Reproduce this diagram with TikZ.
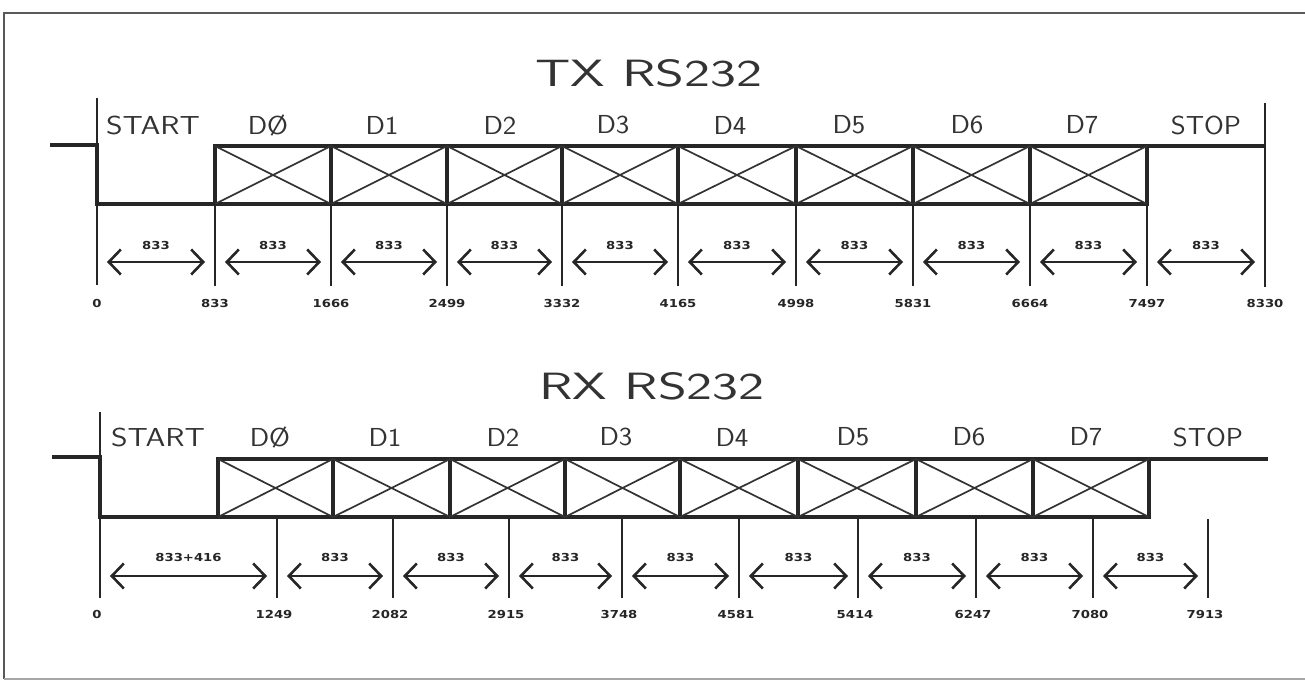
\documentclass[tikz,border=0pt]{standalone}
\usepackage{fontspec}
\usepackage{graphicx}
\usetikzlibrary{arrows.meta,calc}
\newfontfamily\numfont{DejaVu Sans}
\tikzset{
  wave/.style={line width=3.1pt, line cap=butt, line join=miter, black!85},
  diag/.style={line width=1.7pt, black!80},
  tickline/.style={line width=1.4pt, black!85},
  dimarrow/.style={line width=1.8pt, black!85,
    {Straight Barb[length=12pt,width=25pt,line width=2.6pt]}-{Straight Barb[length=12pt,width=25pt,line width=2.6pt]},
    shorten <=10pt, shorten >=10pt},
  seglabel/.style={inner sep=0pt, font=\fontsize{26}{28}\selectfont\sffamily, text=black!80},
  titlelabel/.style={inner sep=0pt, font=\fontsize{38}{40}\selectfont\sffamily, text=black!80},
  durlabel/.style={inner sep=0pt, text height=8pt, text depth=0pt, font=\fontsize{11}{12}\selectfont\numfont\bfseries, text=black!85},
  numlabel/.style={inner sep=0pt, text height=8pt, text depth=0pt, font=\fontsize{11}{12}\selectfont\numfont\bfseries, text=black!85},
}
\newcommand{\wide}[2]{\scalebox{#1}[1]{#2}}
\begin{document}
\begin{tikzpicture}[x=1pt,y=-1pt]
\useasboundingbox (0,0) rectangle (1305,682);
\fill[white] (0,0) rectangle (1305,682);
% frame
\draw[line width=2pt, black!65] (1305,13) -- (4,13) -- (4,679);
\draw[line width=1.2pt, black!35] (4,679) -- (1305,679);

% ================= TX =================
\node[titlelabel] (txtitle) at (649,73) {\wide{1.45}{TX RS232}};
\foreach \n/\x in {0/97,1/215,2/331,3/447,4/562,5/678,6/796,7/913,8/1030,9/1147,10/1265}{
  \coordinate (t\n) at (\x,204);
  \coordinate (ta\n) at (\x,262);
  \coordinate (tb\n) at (\x,286);
}
% waveform
\draw[wave] (50,145) -- (97,145) -- (97,204) -- (t1);
\draw[wave] (215,146) rectangle (1147,204);
\draw[wave] (1147,146) -- (1265,146);
\foreach \x in {331,447,562,678,796,913,1030}{
  \draw[wave] (\x,146) -- (\x,204);
}
\foreach \a/\b in {215/331,331/447,447/562,562/678,678/796,796/913,913/1030,1030/1147}{
  \draw[diag] (\a,146) -- (\b,204) (\a,204) -- (\b,146);
}
% ticks
\draw[tickline] (97,98) -- (97,285);
\draw[tickline] (1265,103) -- (1265,287);
\foreach \n in {1,...,9}{
  \draw[tickline] (t\n) -- (tb\n);
}
% arrows and durations
\foreach \n [evaluate=\n as \m using int(\n+1)] in {0,...,9}{
  \draw[dimarrow] (ta\n) -- (ta\m);
  \node[durlabel] (tdur\n) at ($(ta\n)!0.5!(ta\m)+(0,-17)$) {\wide{1.2}{833}};
}
% numbers
\foreach \n/\v in {0/0,1/833,2/1666,3/2499,4/3332,5/4165,6/4998,7/5831,8/6664,9/7497,10/8330}{
  \node[numlabel] (tnum\n) at ($(ta\n)+(0,41)$) {\wide{1.2}{\v}};
}
% segment labels
\node[seglabel] (txs) at (153,125) {\wide{1.22}{START}};
\foreach \nm/\x/\t in {d0/268/DØ,d1/382/D1,d2/500/D2,d3/613/D3,d4/730/D4,d5/849/D5,d6/967/D6,d7/1082/D7,p/1206/STOP}{
  \node[seglabel] (tx\nm) at (\x,125) {\wide{1.1}{\t}};
}

% ================= RX =================
\node[titlelabel] (rxtitle) at (652,386) {\wide{1.45}{RX RS232}};
\foreach \n/\x in {0/100,1/277,2/393,3/509,4/622,5/739,6/858,7/976,8/1093,9/1208}{
  \coordinate (r\n) at (\x,519);
  \coordinate (ra\n) at (\x,576);
  \coordinate (rb\n) at (\x,598);
}
\draw[wave] (52,457) -- (100,457) -- (100,517) -- (218,517);
\draw[wave] (218,459) rectangle (1149,517);
\draw[wave] (1149,459) -- (1268,459);
\foreach \x in {333,450,565,680,798,916,1033}{
  \draw[wave] (\x,459) -- (\x,517);
}
\foreach \a/\b in {218/333,333/450,450/565,565/680,680/798,798/916,916/1033,1033/1149}{
  \draw[diag] (\a,459) -- (\b,517) (\a,517) -- (\b,459);
}
\draw[tickline] (100,412) -- (100,598);
\foreach \n in {1,...,9}{
  \draw[tickline] (r\n) -- (rb\n);
}
\foreach \n/\lab [evaluate=\n as \m using int(\n+1)] in {0/833+416,1/833,2/833,3/833,4/833,5/833,6/833,7/833,8/833}{
  \draw[dimarrow] (ra\n) -- (ra\m);
  \node[durlabel] (rdur\n) at ($(ra\n)!0.5!(ra\m)+(0,-19)$) {\wide{1.2}{\lab}};
}
\foreach \n/\v in {0/0,1/1249,2/2082,3/2915,4/3748,5/4581,6/5414,7/6247,8/7080,9/7913}{
  \node[numlabel] (rnum\n) at ($(ra\n)+(-3,38)$) {\wide{1.2}{\v}};
}
\node[seglabel] (rxs) at (158,437) {\wide{1.22}{START}};
\foreach \nm/\x/\t in {d0/270/DØ,d1/385/D1,d2/503/D2,d3/616/D3,d4/732/D4,d5/853/D5,d6/969/D6,d7/1086/D7,p/1208/STOP}{
  \node[seglabel] (rx\nm) at (\x,437) {\wide{1.1}{\t}};
}
\end{tikzpicture}
\end{document}
